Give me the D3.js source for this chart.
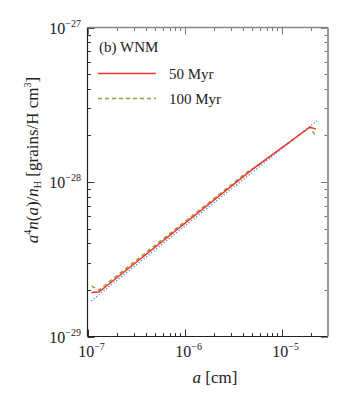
<!DOCTYPE html>
<html><head><meta charset="utf-8">
<script src="https://cdn.jsdelivr.net/npm/d3@7"></script>
<style>
html,body{margin:0;padding:0;background:#fff;}
svg{display:block;}
text{font-family:"Liberation Serif","DejaVu Serif",serif;fill:#222;}
</style></head>
<body>
<svg id="chart" width="354" height="393"></svg>
<script>
// ---- data ----
const sizes50 = [1.1e-7, 1.31e-7, 5.1e-6, 1.96e-5, 2.25e-5];
const vals50  = [1.93e-29, 1.94e-29, 1.22e-28, 2.27e-28, 2.2e-28];
const sizes100 = [1.1e-7, 1.31e-7, 4.5e-6, 5.6e-6, 1.96e-5, 2.25e-5];
const vals100  = [2.12e-29, 2.0e-29, 1.17e-28, 1.27e-28, 2.27e-28, 1.97e-28];
const sizesFit = [1.09e-7, 2.3e-5];
const valsFit  = [1.70e-29, 2.49e-28];
const xTickExps = [-7, -6, -5];
const yTickExps = [-29, -28, -27];
const seriesLabels = ["50 Myr", "100 Myr"];
const panelLabel = "(b) WNM";

// ---- layout ----
const L = 87.5, R = 328, T = 27.5, B = 336.5;
const svg = d3.select("#chart");
const x = d3.scaleLog().domain([1e-7, 3e-5]).range([L, R]);
const y = d3.scaleLog().domain([1e-29, 1e-27]).range([B, T]);

const line = d3.line().x(d => x(d[0])).y(d => y(d[1]));
const zip = (a, b) => a.map((v, i) => [v, b[i]]);

const g = svg.append("g");
g.append("defs").append("clipPath").attr("id", "clip")
  .append("rect").attr("x", L).attr("y", T).attr("width", R - L).attr("height", B - T);

const plot = g.append("g").attr("clip-path", "url(#clip)");
plot.append("path").datum(zip(sizesFit, valsFit)).attr("d", line)
  .attr("fill", "none").attr("stroke", "#3b8fe8").attr("stroke-width", 1.3)
  .attr("stroke-dasharray", "1.2,2");
plot.append("path").datum(zip(sizes100, vals100)).attr("d", line)
  .attr("fill", "none").attr("stroke", "#93a23a").attr("stroke-width", 1.5)
  .attr("stroke-dasharray", "4,3");
plot.append("path").datum(zip(sizes50, vals50)).attr("d", line)
  .attr("fill", "none").attr("stroke", "#f5352a").attr("stroke-width", 1.5);

// ---- ticks ----
const xMinor = [], yMinor = [];
for (let e = -7; e <= -5; e++) for (let m = 1; m <= 9; m++) { const v = m * Math.pow(10, e); if (v >= 1e-7 && v <= 3e-5) xMinor.push({v, major: m === 1}); }
for (let e = -29; e <= -28; e++) for (let m = 1; m <= 9; m++) { yMinor.push({v: m * Math.pow(10, e), major: m === 1}); }
yMinor.push({v: 1e-27, major: true});

const tickG = g.append("g").attr("stroke", "#333").attr("stroke-width", 1);
xMinor.forEach(t => {
  const px = Math.round(x(t.v)) + 0.5, len = t.major ? 7 : 3.5;
  tickG.append("line").attr("x1", px).attr("x2", px).attr("y1", B).attr("y2", B - len);
  tickG.append("line").attr("x1", px).attr("x2", px).attr("y1", T).attr("y2", T + len).attr("stroke", "#777");
});
yMinor.forEach(t => {
  const py = Math.round(y(t.v)) + 0.5, len = t.major ? 7 : 3.5;
  tickG.append("line").attr("y1", py).attr("y2", py).attr("x1", L).attr("x2", L + len);
  tickG.append("line").attr("y1", py).attr("y2", py).attr("x1", R).attr("x2", R - len).attr("stroke", "#777");
});

// frame
g.append("line").attr("x1", L).attr("x2", L).attr("y1", T).attr("y2", B).attr("stroke", "#222").attr("stroke-width", 1.2);
g.append("line").attr("x1", L).attr("x2", R).attr("y1", B).attr("y2", B).attr("stroke", "#222").attr("stroke-width", 1.2);
g.append("line").attr("x1", L).attr("x2", R).attr("y1", T).attr("y2", T).attr("stroke", "#888").attr("stroke-width", 1.5);
g.append("line").attr("x1", R).attr("x2", R).attr("y1", T).attr("y2", B).attr("stroke", "#999").attr("stroke-width", 2);

// ---- tick labels ----
function powLabel(sel, e) {
  sel.append("tspan").text("10");
  sel.append("tspan").attr("dy", -7).attr("font-size", 10).text("\u2212" + Math.abs(e));
}
xTickExps.forEach(e => {
  const t = g.append("text").attr("x", x(Math.pow(10, e)) + 4).attr("y", 357)
    .attr("text-anchor", "middle").attr("font-size", 16);
  powLabel(t, e);
});
yTickExps.forEach(e => {
  const t = g.append("text").attr("x", 81).attr("y", y(Math.pow(10, e)) + 6)
    .attr("text-anchor", "end").attr("font-size", 16);
  powLabel(t, e);
});

// ---- axis titles ----
const xt = g.append("text").attr("x", 215).attr("y", 383).attr("text-anchor", "middle").attr("font-size", 17);
xt.append("tspan").attr("font-style", "italic").text("a");
xt.append("tspan").text(" [cm]");

const yt = g.append("text").attr("transform", "translate(38,160) rotate(-90)")
  .attr("text-anchor", "middle").attr("font-size", 17);
yt.append("tspan").attr("font-style", "italic").text("a");
yt.append("tspan").attr("dy", -7).attr("font-size", 10).text("4");
yt.append("tspan").attr("dy", 7).attr("font-style", "italic").text("n");
yt.append("tspan").text("(");
yt.append("tspan").attr("font-style", "italic").text("a");
yt.append("tspan").text(")/");
yt.append("tspan").attr("font-style", "italic").text("n");
yt.append("tspan").attr("dy", 3).attr("font-size", 10).text("H");
yt.append("tspan").attr("dy", -3).text(" [grains/H cm");
yt.append("tspan").attr("dy", -7).attr("font-size", 10).text("3");
yt.append("tspan").attr("dy", 7).text("]");

// ---- legend ----
g.append("text").attr("x", 99).attr("y", 52).attr("font-size", 15).attr("fill", "#333").text(panelLabel);
const legColors = ["#f5352a", "#93a23a"];
const legDash = [null, "4,3"];
seriesLabels.forEach((s, i) => {
  const ly = 73.5 + i * 25;
  g.append("line").attr("x1", 98).attr("x2", 156).attr("y1", ly).attr("y2", ly)
    .attr("stroke", legColors[i]).attr("stroke-width", 1.5).attr("stroke-dasharray", legDash[i]);
  g.append("text").attr("x", 169).attr("y", ly + 5).attr("font-size", 15).attr("fill", "#333").text(s);
});
</script>
</body></html>
